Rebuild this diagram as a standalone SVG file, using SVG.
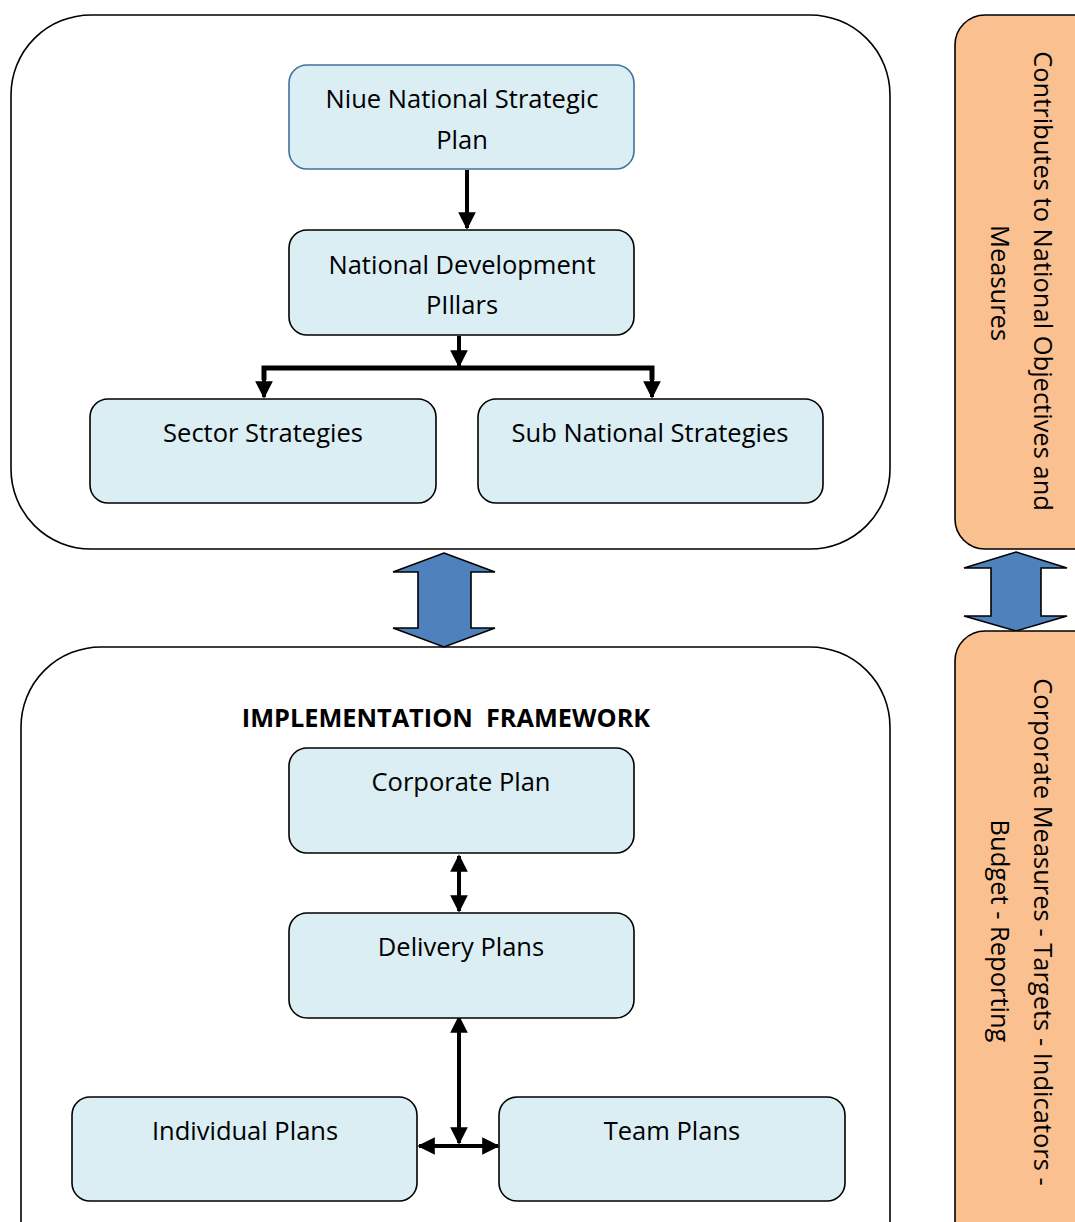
<svg xmlns="http://www.w3.org/2000/svg" width="1075" height="1222" viewBox="0 0 1075 1222">
<defs>
<style>
.outer{fill:#fff;stroke:#000;stroke-width:1.6}
.node{fill:#daeef3;stroke:#000;stroke-width:1.6}
.nodeb{fill:#daeef3;stroke:#41719c;stroke-width:1.6}
.side{fill:#fac090;stroke:#000;stroke-width:1.6}
.t{font-family:"Open Sans","Liberation Sans",sans-serif;font-size:25.5px;fill:#000;text-anchor:middle}
.h{font-family:"Open Sans","Liberation Sans",sans-serif;font-size:25.3px;font-weight:bold;fill:#000;text-anchor:middle;white-space:pre}
.c{stroke:#000;stroke-width:4;fill:none}
.blk{fill:#4f81bd;stroke:#000;stroke-width:1.6;stroke-linejoin:miter}
</style>
<marker id="ah" viewBox="0 0 10 10" refX="9" refY="5" markerWidth="4.6" markerHeight="4.4" orient="auto-start-reverse" markerUnits="strokeWidth">
<path d="M0,0 L10,5 L0,10 z" fill="#000"/>
</marker>
</defs>

<g id="strategic-frame">
<rect class="outer" x="11" y="15" width="879" height="534" rx="80" ry="80"/>
</g>
<g id="implementation-frame">
<rect class="outer" x="21" y="647" width="869" height="660" rx="80" ry="80"/>
<text class="h" x="446" y="727" xml:space="preserve">IMPLEMENTATION  FRAMEWORK</text>
</g>

<g id="connectors">
<line class="c" x1="467" y1="170" x2="467" y2="228" marker-end="url(#ah)"/>
<line class="c" x1="459" y1="336" x2="459" y2="366" marker-end="url(#ah)"/>
<polyline class="c" points="264,380 264,368 652,368 652,380" style="stroke-width:5"/>
<line class="c" x1="264" y1="375" x2="264" y2="397" marker-end="url(#ah)"/>
<line class="c" x1="652" y1="375" x2="652" y2="397" marker-end="url(#ah)"/>
<line class="c" x1="459" y1="856" x2="459" y2="911" marker-start="url(#ah)" marker-end="url(#ah)"/>
<line class="c" x1="459" y1="1017" x2="459" y2="1143" marker-start="url(#ah)" marker-end="url(#ah)"/>
<line class="c" x1="419" y1="1146" x2="498" y2="1146" marker-start="url(#ah)" marker-end="url(#ah)"/>
<polygon class="blk" points="444,553 495,572 471,572 471,628 495,628 444,647 393,628 418,628 418,572 393,572"/>
<polygon class="blk" points="1016,552 1067,568 1041,568 1041,616 1067,616 1016,631 964,616 991,616 991,568 964,568"/>
</g>

<g id="niue-plan">
<rect class="nodeb" x="289" y="65" width="345" height="104" rx="18" ry="18"/>
<text class="t" x="462" y="108">Niue National Strategic</text>
<text class="t" x="462" y="149">Plan</text>
</g>
<g id="national-pillars">
<rect class="node" x="289" y="230" width="345" height="105" rx="18" ry="18"/>
<text class="t" x="462" y="274">National Development</text>
<text class="t" x="462" y="314">PIllars</text>
</g>
<g id="sector-strategies">
<rect class="node" x="90" y="399" width="346" height="104" rx="18" ry="18"/>
<text class="t" x="263" y="442">Sector Strategies</text>
</g>
<g id="subnational-strategies">
<rect class="node" x="478" y="399" width="345" height="104" rx="18" ry="18"/>
<text class="t" x="650" y="442">Sub National Strategies</text>
</g>
<g id="corporate-plan">
<rect class="node" x="289" y="748" width="345" height="105" rx="18" ry="18"/>
<text class="t" x="461" y="791">Corporate Plan</text>
</g>
<g id="delivery-plans">
<rect class="node" x="289" y="913" width="345" height="105" rx="18" ry="18"/>
<text class="t" x="461" y="956">Delivery Plans</text>
</g>
<g id="individual-plans">
<rect class="node" x="72" y="1097" width="345" height="104" rx="18" ry="18"/>
<text class="t" x="245" y="1140">Individual Plans</text>
</g>
<g id="team-plans">
<rect class="node" x="499" y="1097" width="346" height="104" rx="18" ry="18"/>
<text class="t" x="672" y="1140">Team Plans</text>
</g>

<g id="national-objectives">
<rect class="side" x="955" y="15" width="150" height="534" rx="30" ry="30"/>
<g transform="translate(1043,281) rotate(90)">
<text class="t" x="0" y="9">Contributes to National Objectives and</text>
<text class="t" x="2" y="52">Measures</text>
</g>
</g>
<g id="corporate-measures">
<rect class="side" x="955" y="631" width="150" height="660" rx="30" ry="30"/>
<g transform="translate(1043,932) rotate(90)">
<text class="t" x="0" y="9">Corporate Measures - Targets - Indicators -</text>
<text class="t" x="-1" y="52">Budget - Reporting</text>
</g>
</g>
</svg>
